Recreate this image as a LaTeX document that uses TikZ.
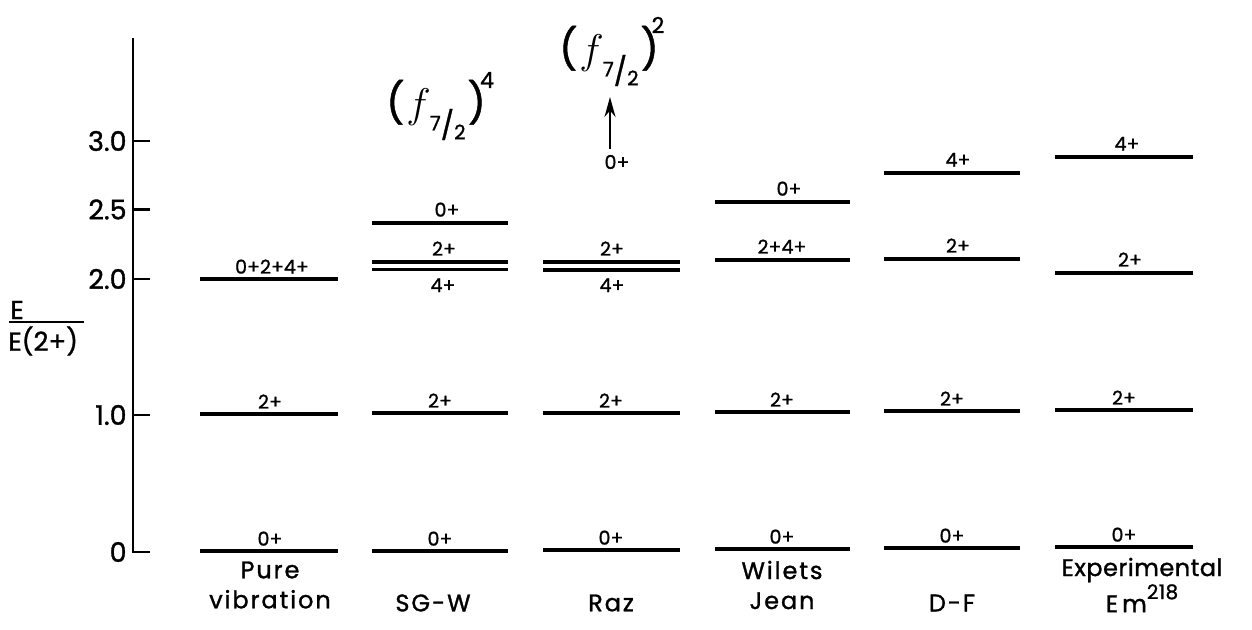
\documentclass[tikz,border=0pt]{standalone}
\usepackage{fontspec}
\setmainfont{Poppins}[FakeBold=1.2]
\usetikzlibrary{arrows.meta}
\newcommand{\fsub}{\raisebox{-0.45em}{\fontsize{10}{10}\selectfont\raisebox{0.25em}{7}{\fontsize{14}{14}\selectfont /}\raisebox{-0.2em}{2}}}
\begin{document}
\begin{tikzpicture}[x=0.5pt,y=-0.5pt,
  lvl/.style={line width=1.6pt},
  axisline/.style={line width=1.2pt},
  lab/.style={font=\fontsize{9.5}{10}\selectfont, inner sep=0pt},
  ticklab/.style={font=\fontsize{13.5}{14}\selectfont, inner sep=0pt, anchor=east},
  botlab/.style={font=\fontsize{12}{15}\selectfont\addfontfeatures{LetterSpace=8}, inner sep=0pt, align=center},
  fraclab/.style={font=\fontsize{13}{14}\selectfont, inner sep=0pt, anchor=west},
  fgrp/.style={font=\fontsize{20}{20}\selectfont, inner sep=0pt},
  supl/.style={font=\fontsize{11}{11}\selectfont, inner sep=0pt},
  arr/.style={line width=1.1pt, -{Stealth[length=10pt,width=5.5pt]}}]
\useasboundingbox (0,0) rectangle (1252,630);
% axis
\coordinate (atop) at (133,38);
\coordinate (a0) at (133,552);
\draw[axisline] (atop) -- (a0) -- (150,552);
\foreach \yy/\tx/\nm in {141/3.0/t30, 209.5/2.5/t25, 279/2.0/t20, 415/1.0/t10, 552/0/t0}{
  \draw[axisline] (133,\yy) -- (150,\yy);
  \node[ticklab] (\nm) at (127,\yy) {\tx};
}
% E/E(2+)
\node[fraclab] (num) at (10,310) {E};
\coordinate (bl) at (9,322);
\coordinate (br) at (84,322);
\draw[line width=1pt] (bl) -- (br);
\node[fraclab] (den) at (8,341) {E(2+)};
% column 1: Pure vibration
\draw[lvl] (200,279) -- (338,279);
\node[lab, anchor=south] (c1a) at (272,274) {0+2+4+};
\draw[lvl] (200,414) -- (338,414);
\node[lab, anchor=south] (c1b) at (270,409) {2+};
\draw[lvl] (200,551) -- (338,551);
\node[lab, anchor=south] (c1c) at (270,546) {0+};
% column 2: SG-W
\draw[lvl] (372,223) -- (508,223);
\node[lab, anchor=south] (c2a) at (447,217) {0+};
\draw[lvl] (372,262) -- (508,262);
\node[lab, anchor=south] (c2b) at (444,256) {2+};
\draw[lvl] (372,269.5) -- (508,269.5);
\node[lab, anchor=north] (c2c) at (443,278) {4+};
\draw[lvl] (372,413) -- (508,413);
\node[lab, anchor=south] (c2d) at (440,408) {2+};
\draw[lvl] (372,551) -- (508,551);
\node[lab, anchor=south] (c2e) at (440,546) {0+};
% column 3: Raz
\draw[lvl] (543,262) -- (680,262);
\node[lab, anchor=south] (c3b) at (612,256) {2+};
\draw[lvl] (543,270) -- (680,270);
\node[lab, anchor=north] (c3c) at (612,278) {4+};
\draw[lvl] (543,413) -- (680,413);
\node[lab, anchor=south] (c3d) at (611,408) {2+};
\draw[lvl] (543,550) -- (680,550);
\node[lab, anchor=south] (c3e) at (611,545) {0+};
\node[lab] (raz0) at (617,162) {0+};
% column 4: Wilets Jean
\draw[lvl] (715,202) -- (850,202);
\node[lab, anchor=south] (c4a) at (789,196) {0+};
\draw[lvl] (715,260) -- (850,260);
\node[lab, anchor=south] (c4b) at (782,254) {2+4+};
\draw[lvl] (715,412) -- (850,412);
\node[lab, anchor=south] (c4c) at (782,407) {2+};
\draw[lvl] (715,549) -- (850,549);
\node[lab, anchor=south] (c4d) at (782,544) {0+};
% column 5: D-F
\draw[lvl] (884,173) -- (1020,173);
\node[lab, anchor=south] (c5a) at (958,167) {4+};
\draw[lvl] (884,259) -- (1020,259);
\node[lab, anchor=south] (c5b) at (958,253) {2+};
\draw[lvl] (884,411) -- (1020,411);
\node[lab, anchor=south] (c5c) at (952,406) {2+};
\draw[lvl] (884,548) -- (1020,548);
\node[lab, anchor=south] (c5d) at (952,543) {0+};
% column 6: Experimental
\draw[lvl] (1055,157) -- (1193,157);
\node[lab, anchor=south] (c6a) at (1127,151) {4+};
\draw[lvl] (1055,273) -- (1193,273);
\node[lab, anchor=south] (c6b) at (1130,267) {2+};
\draw[lvl] (1055,410) -- (1193,410);
\node[lab, anchor=south] (c6c) at (1124,405) {2+};
\draw[lvl] (1055,547) -- (1193,547);
\node[lab, anchor=south] (c6d) at (1124,542) {0+};
% f7/2 groups
\node[fgrp] (f4) at (436,110) {(\kern1pt$f$\kern-0.5pt\fsub\kern1pt)};
\node[supl] (s4) at (487,80) {4};
\node[fgrp] (f2) at (609,56) {(\kern1pt$f$\kern-0.5pt\fsub\kern1pt)};
\node[supl] (s2) at (658,25) {2};
\coordinate (atail) at (610,149);
\coordinate (ahead) at (610,97);
\draw[arr] (atail) -- (ahead);
% bottom labels
\node[botlab] (b1) at (270,585) {Pure\\vibration};
\node[botlab] (b2) at (433,603) {SG-W};
\node[botlab] (b3) at (611,603) {Raz};
\node[botlab] (b4) at (782,585) {Wilets\\Jean};
\node[botlab] (b5) at (952,603) {D-F};
\node[botlab, font=\fontsize{12}{15}\selectfont\addfontfeatures{LetterSpace=2}] (b6) at (1142,585) {Experimental\\E\,m\raisebox{0.55em}{\fontsize{10}{10}\selectfont 218}};
\end{tikzpicture}
\end{document}
